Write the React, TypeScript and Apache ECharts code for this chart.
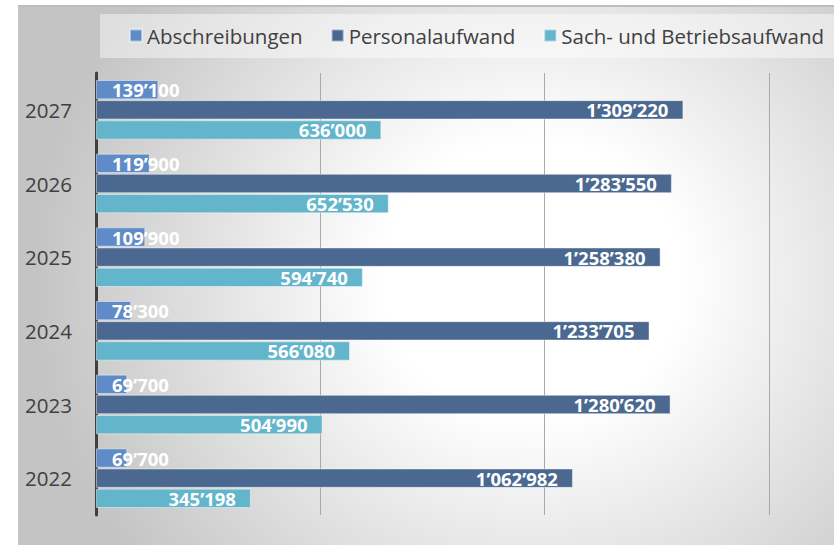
import React, { useEffect, useRef } from "react";
import * as echarts from "echarts";

const years = ["2022", "2023", "2024", "2025", "2026", "2027"];
const abschreibungen = [69700, 69700, 78300, 109900, 119900, 139100];
const personalaufwand = [1062982, 1280620, 1233705, 1258380, 1283550, 1309220];
const sachaufwand = [345198, 504990, 566080, 594740, 652530, 636000];
const seriesNames = ["Abschreibungen", "Personalaufwand", "Sach- und Betriebsaufwand"];
const colors = ["#5f8cc8", "#4a6890", "#62b5cb"];

const FONT = "'Open Sans', 'Noto Sans', sans-serif";

function fmt(v: number): string {
  return String(v).replace(/\B(?=(\d{3})+(?!\d))/g, "\u2019");
}

export default function App() {
  const ref = useRef<HTMLDivElement>(null);
  useEffect(() => {
    if (!ref.current) return;
    const chart = echarts.init(ref.current, null, { renderer: "svg" });
    const labelBase = {
      show: true,
      color: "#ffffff",
      fontWeight: "bold" as const,
      fontSize: 18.5,
      fontFamily: FONT,
      formatter: (p: any) => fmt(p.value),
    };
    const barCommon = {
      type: "bar" as const,
      barCategoryGap: "19%",
      barGap: "4%",
      itemStyle: { borderColor: "rgba(255,255,255,0.45)", borderWidth: 1 },
    };
    chart.setOption({
      animation: false,
      backgroundColor: "transparent",
      graphic: [
        {
          type: "rect",
          shape: { x: 100, y: 14, width: 740, height: 44 },
          style: { fill: "rgba(255,255,255,0.45)" },
          silent: true,
          z: -1,
        },
      ],
      legend: {
        left: 124,
        top: 20,
        itemWidth: 12,
        itemHeight: 12,
        itemGap: 28,
        icon: "rect",
        data: seriesNames,
        textStyle: { fontSize: 20.5, color: "#404040", fontFamily: FONT },
      },
      grid: { left: 96, right: 65, top: 73, bottom: 30, containLabel: false },
      xAxis: {
        type: "value",
        min: 0,
        max: 1500000,
        interval: 500000,
        axisLabel: { show: false },
        axisLine: { show: false },
        axisTick: { show: false },
        splitLine: { show: true, lineStyle: { color: "#a9a9a9", width: 1 } },
      },
      yAxis: {
        type: "category",
        data: years,
        axisTick: { show: false },
        axisLine: { show: true, lineStyle: { color: "#404040", width: 3 } },
        axisLabel: { fontSize: 20.5, color: "#404040", fontFamily: FONT, margin: 24 },
      },
      series: [
        {
          ...barCommon,
          name: seriesNames[0],
          data: abschreibungen,
          itemStyle: { ...barCommon.itemStyle, color: colors[0] },
          label: { ...labelBase, position: "insideLeft", distance: 16 },
        },
        {
          ...barCommon,
          name: seriesNames[1],
          data: personalaufwand,
          itemStyle: { ...barCommon.itemStyle, color: colors[1] },
          label: { ...labelBase, position: "insideRight", distance: 15 },
        },
        {
          ...barCommon,
          name: seriesNames[2],
          data: sachaufwand,
          itemStyle: { ...barCommon.itemStyle, color: colors[2] },
          label: { ...labelBase, position: "insideRight", distance: 15 },
        },
      ],
    });
    return () => chart.dispose();
  }, []);
  return (
    <div style={{ position: "fixed", left: 0, top: 0, width: 834, height: 545, background: "#fff", overflow: "hidden" }}>
      <div
        style={{
          position: "absolute",
          left: 18,
          top: 5,
          width: 830,
          height: 545,
          borderTop: "2px solid #bdbdbd",
          background:
            "radial-gradient(ellipse 60% 85% at 62% 50%, #ffffff 30%, #c4c4c4 100%)",
        }}
      />
      <div ref={ref} style={{ position: "absolute", left: 0, top: 0, width: 834, height: 545 }} />
    </div>
  );
}
